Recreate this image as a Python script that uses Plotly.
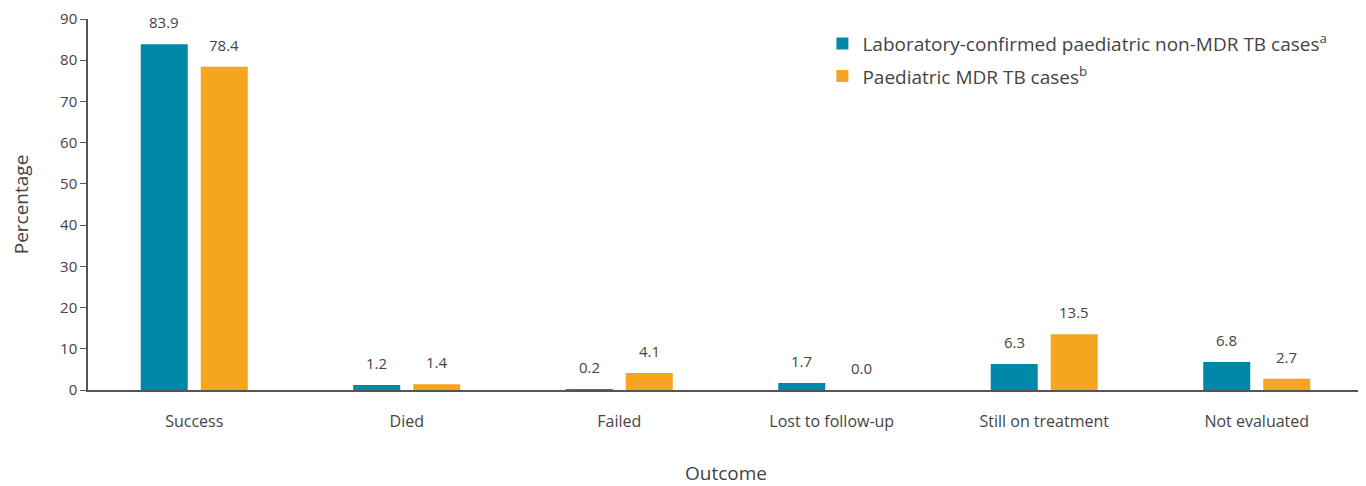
import plotly.graph_objects as go

categories = ["Success", "Died", "Failed", "Lost to follow-up", "Still on treatment", "Not evaluated"]
non_mdr = [83.9, 1.2, 0.2, 1.7, 6.3, 6.8]
mdr = [78.4, 1.4, 4.1, 0.0, 13.5, 2.7]
series_names = ["Laboratory-confirmed paediatric non-MDR TB cases<sup>a</sup>",
                "Paediatric MDR TB cases<sup>b</sup>"]
y_ticks = [0, 10, 20, 30, 40, 50, 60, 70, 80, 90]
x_title = "Outcome"

TEAL = "#0088A9"
ORANGE = "#F6A51F"
TXT = "#444444"
FONT = "Open Sans"

fig = go.Figure()
fig.add_trace(go.Bar(x=categories, y=non_mdr, name=series_names[0], marker_color=TEAL,
                     marker_line_width=0, legendgroup="a"))
fig.add_trace(go.Bar(x=categories, y=mdr, name=series_names[1], marker_color=ORANGE,
                     marker_line_width=0, legendgroup="b"))

annotations = []
for vals, shift in ((non_mdr, -30), (mdr, 30)):
    for c, v in zip(categories, vals):
        annotations.append(dict(x=c, y=v, xref="x", yref="y", text=f"{v:.1f}",
                                showarrow=False, xshift=shift, yshift=22,
                                font=dict(family=FONT, size=15, color=TXT)))
annotations.append(dict(x=0.5, y=-0.225, xref="paper", yref="paper", text=x_title,
                        showarrow=False, xanchor="center", yanchor="middle",
                        font=dict(family=FONT, size=19, color=TXT)))

fig.update_layout(
    width=1358, height=478,
    margin=dict(l=80, r=3, t=11, b=96),
    paper_bgcolor="white", plot_bgcolor="white",
    barmode="group", bargap=0.435, bargroupgap=0.217,
    font=dict(family=FONT, size=14, color=TXT),
    annotations=annotations,
    legend=dict(x=0.576, y=0.985, xanchor="left", yanchor="top",
                font=dict(family=FONT, size=19, color=TXT),
                bgcolor="rgba(0,0,0,0)", itemwidth=30, tracegroupgap=5),
    xaxis=dict(automargin=False,
               showline=True, linecolor="#555555", linewidth=1.5, ticks="",
               ticklabelstandoff=16, tickfont=dict(size=16, color=TXT), showgrid=False),
    yaxis=dict(title=dict(text="Percentage", font=dict(family=FONT, size=19, color=TXT), standoff=30),
               automargin=False, ticklabeloverflow="allow",
               range=[0, 90], tickvals=y_ticks, showline=True, linecolor="#555555", linewidth=1.5,
               ticks="outside", ticklen=6, tickcolor="#555555", showgrid=False, zeroline=False,
               tickfont=dict(size=15, color=TXT)),
)

fig.write_html("out.html")
